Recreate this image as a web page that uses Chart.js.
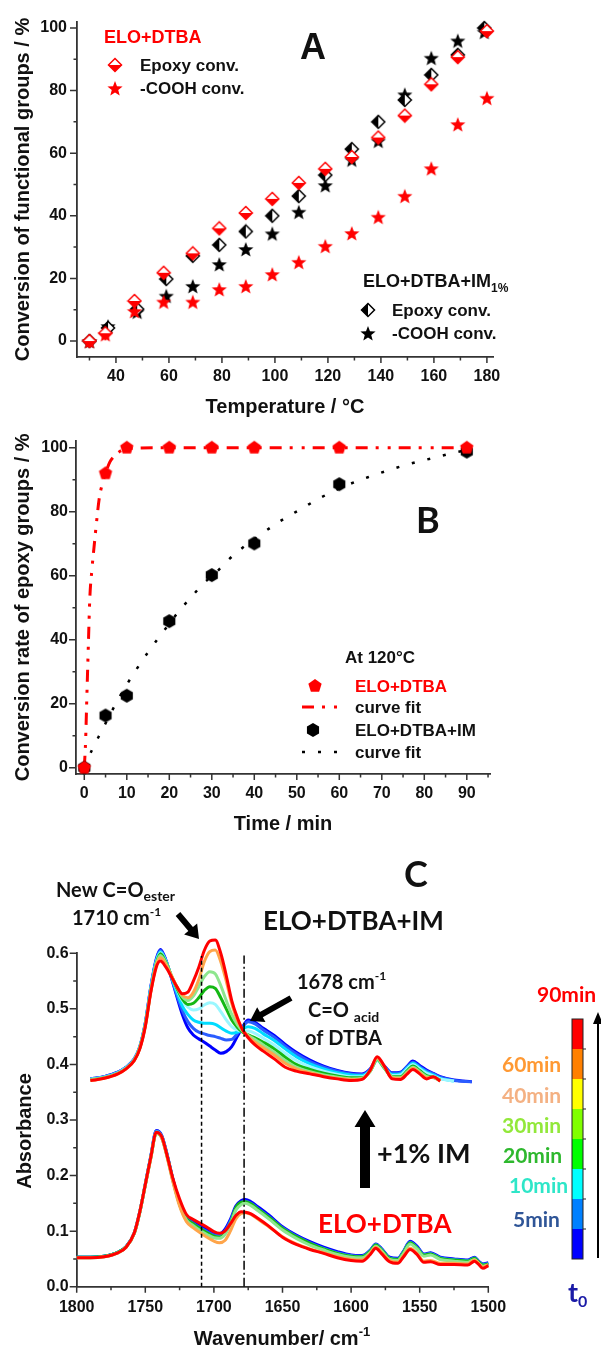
<!DOCTYPE html>
<html>
<head>
<meta charset="utf-8">
<script src="https://cdn.jsdelivr.net/npm/chart.js@4.4.0/dist/chart.umd.min.js"></script>
<style>
  html, body { margin: 0; padding: 0; background: #fff; overflow: hidden; }
  #wrap { position: relative; width: 601px; height: 1348px; }
  #wrap canvas { position: absolute; left: 0; }
</style>
</head>
<body>
<div id="wrap">
  <canvas id="chartA" width="601" height="420" style="top:0px"></canvas>
  <canvas id="chartB" width="601" height="420" style="top:420px"></canvas>
  <canvas id="chartC" width="601" height="508" style="top:840px"></canvas>
</div>
<script>
// ---------- Panel A: conversion vs temperature ----------
const tempDTBA  = [30, 36, 47, 58, 69, 79, 89, 99, 109, 119, 129, 139, 149, 159, 169, 180];
const epoxyDTBA = [0, 2.5, 12.8, 21.8, 28, 36, 40.9, 45.4, 50.5, 55, 58.8, 65, 72, 82, 90.7, 99];
const coohDTBA  = [0, 2.2, 9.6, 12.6, 12.6, 16.6, 17.6, 21.4, 25.3, 30.4, 34.5, 39.7, 46.4, 55.2, 69.3, 77.7];
const tempIM    = [30, 37, 48, 59, 69, 79, 89, 99, 109, 119, 129, 139, 149, 159, 169, 179];
const epoxyIM   = [0, 4.2, 10.2, 19.8, 27.2, 30.7, 35, 40, 46.3, 53, 61.3, 70, 77, 85, 91.4, 100];
const coohIM    = [0, 4.8, 9.4, 14.5, 17.6, 24.6, 29.4, 34.4, 41.3, 49.8, 58, 64, 78.8, 90.5, 96, 98.8];
const tempTicks = [30, 40, 50, 60, 70, 80, 90, 100, 110, 120, 130, 140, 150, 160, 170, 180];
const convTicks = [0, 10, 20, 30, 40, 50, 60, 70, 80, 90, 100];

// ---------- Panel B: conversion rate at 120 °C ----------
const timeMin  = [0, 5, 10, 20, 30, 40, 60, 90];
const rateDTBA = [0, 92, 100, 100, 100, 100, 100, 100];
const rateIM   = [0, 16.3, 22.5, 45.8, 60.2, 70.1, 88.6, 98.8];
const fitTimeDTBA = [0, 0.3, 0.6, 0.95, 1.3, 1.8, 2.3, 2.9, 3.5, 4.2, 5, 6, 7, 8.5, 10, 20, 30, 40, 60, 90];
const fitDTBA     = [0, 8, 22, 38, 53, 62, 69, 77, 84, 88.5, 92, 95.5, 97.3, 99, 99.7, 100, 100, 100, 100, 100];
const fitTimeIM = [0, 1.9, 3.9, 7.9, 10, 12.3, 14.8, 17.2, 20, 22.5, 25.1, 27.9, 31, 34, 37.3, 40.6, 44.1, 47.6, 51.2, 54.9, 58.8, 62.9, 67.2, 71.2, 75.1, 79, 83.3, 87.5, 90];
const fitIM     = [0, 5.8, 11, 21.2, 26, 30.8, 35.7, 40.1, 45, 49.3, 53.2, 57.4, 61, 65.1, 68.8, 72, 75.3, 78.3, 81, 83.9, 86.5, 88.9, 91, 92.8, 94.4, 95.8, 97.2, 98.6, 99.2];
const timeTicks = [0, 5, 10, 15, 20, 25, 30, 35, 40, 45, 50, 55, 60, 65, 70, 75, 80, 85, 90, 95];
const rateTicks = [0, 10, 20, 30, 40, 50, 60, 70, 80, 90, 100];

// ---------- Panel C: FTIR spectra ----------
const timeLabels = ['t0', '5min', '10min', '20min', '30min', '40min', '60min', '90min'];
const wnUpper = [1790, 1780, 1770, 1764, 1758, 1754, 1750, 1746, 1742, 1739, 1735, 1731, 1727, 1723, 1719, 1715, 1711, 1707, 1703, 1699,
  1695, 1691, 1687, 1683, 1679, 1675, 1670, 1664, 1656, 1648, 1640, 1630, 1620, 1610, 1600, 1592, 1586, 1581, 1576, 1570,
  1564, 1559, 1555, 1550, 1545, 1540, 1535, 1525, 1512];
const imT0 = [.374, .378, .386, .395, .410, .432, .475, .540, .590, .607, .588, .556, .522, .490, .466, .453, .446, .440, .433, .426,
  .420, .423, .432, .450, .468, .480, .476, .465, .452, .436, .422, .408, .397, .389, .384, .383, .392, .410, .398, .385,
  .386, .397, .406, .398, .390, .384, .378, .372, .369];
const im5 = [.374, .378, .386, .395, .410, .432, .474, .538, .588, .605, .587, .557, .525, .497, .477, .465, .458, .455, .452, .450,
  .447, .444, .445, .455, .468, .477, .473, .462, .449, .433, .419, .405, .395, .388, .383, .382, .391, .409, .397, .384,
  .385, .396, .404, .396, .388, .383, .377, .371, .369];
const im10 = [.373, .377, .385, .394, .409, .431, .473, .537, .586, .603, .586, .558, .530, .505, .490, .480, .476, .474, .474, .472,
  .466, .460, .456, .458, .464, .468, .465, .455, .443, .428, .414, .401, .392, .385, .381, .380, .390, .408, .395, .382,
  .383, .394, .402, .394, .386, .381, .375, .370, null];
const im20 = [.373, .377, .385, .394, .409, .431, .472, .535, .584, .601, .585, .560, .535, .515, .503, .498, .500, .507, .511, .508,
  .495, .480, .468, .462, .460, .460, .456, .447, .435, .420, .407, .396, .388, .382, .378, .378, .388, .407, .394, .380,
  .381, .392, .400, .392, .384, .379, .374, .370, null];
const im30 = [.372, .376, .384, .393, .408, .430, .471, .533, .582, .599, .584, .560, .537, .518, .508, .510, .520, .533, .540, .537,
  .520, .500, .480, .467, .458, .453, .448, .440, .428, .413, .400, .391, .384, .379, .376, .376, .388, .409, .394, .378,
  .378, .389, .397, .389, .380, .377, .372, null, null];
const im40 = [.372, .376, .384, .393, .408, .430, .470, .532, .580, .596, .582, .560, .540, .522, .515, .523, .540, .558, .567, .563,
  .542, .515, .490, .472, .460, .452, .445, .435, .422, .407, .395, .387, .381, .377, .374, .375, .388, .410, .395, .377,
  .376, .387, .395, .387, .378, .376, .371, null, null];
const im60 = [.371, .375, .383, .392, .407, .429, .469, .531, .578, .592, .580, .560, .540, .525, .520, .530, .553, .585, .603, .606,
  .585, .550, .510, .480, .462, .450, .440, .430, .417, .402, .392, .385, .379, .375, .373, .374, .389, .412, .397, .376,
  .375, .385, .393, .385, .376, .377, .370, null, null];
const im90 = [.371, .375, .383, .392, .407, .428, .468, .530, .575, .586, .575, .558, .540, .527, .530, .550, .575, .605, .622, .624,
  .600, .560, .515, .485, .462, .448, .435, .424, .410, .395, .388, .383, .378, .374, .371, .373, .390, .414, .398, .374,
  .373, .383, .391, .383, .374, .378, .370, null, null];

const wnLower = [1800, 1790, 1780, 1770, 1764, 1758, 1754, 1750, 1746, 1742, 1738, 1734, 1730, 1725, 1720, 1715, 1710, 1705, 1700, 1696,
  1692, 1688, 1684, 1680, 1677, 1673, 1668, 1660, 1650, 1640, 1630, 1620, 1610, 1600, 1592, 1586, 1582, 1578, 1572, 1566,
  1562, 1557, 1552, 1547, 1542, 1535, 1525, 1515, 1510, 1507, 1504, 1500];
const loT0 = [.053, .053, .055, .062, .072, .097, .135, .185, .235, .281, .272, .237, .195, .152, .126, .117, .110, .103, .096, .095,
  .103, .121, .145, .155, .157, .153, .144, .129, .108, .093, .081, .071, .063, .057, .056, .066, .077, .069, .053, .051,
  .063, .082, .073, .059, .061, .053, .050, .048, .053, .046, .041, .043];
const lo5 = [.053, .053, .055, .062, .072, .097, .135, .184, .234, .280, .271, .236, .194, .150, .124, .114, .106, .099, .093, .092,
  .100, .118, .142, .152, .154, .150, .141, .126, .106, .091, .079, .069, .061, .056, .055, .065, .076, .068, .052, .050,
  .062, .080, .071, .058, .060, .052, .049, .047, .052, .045, .040, .042];
const lo10 = [.053, .053, .055, .062, .072, .096, .134, .184, .233, .279, .270, .235, .193, .148, .121, .111, .103, .096, .090, .089,
  .097, .115, .140, .150, .152, .148, .139, .124, .104, .089, .077, .068, .060, .055, .054, .064, .075, .067, .051, .049,
  .061, .079, .070, .057, .059, .051, .048, .046, .051, .044, .039, .041];
const lo20 = [.052, .052, .054, .061, .071, .096, .134, .183, .232, .278, .269, .234, .192, .147, .120, .110, .102, .095, .089, .088,
  .095, .113, .138, .149, .151, .147, .138, .123, .103, .088, .076, .067, .059, .054, .053, .063, .074, .066, .050, .048,
  .060, .078, .069, .056, .058, .050, .047, .045, .050, .043, .038, .040];
const lo30 = [.053, .053, .055, .062, .072, .096, .134, .183, .232, .276, .268, .234, .193, .149, .122, .113, .105, .097, .091, .089,
  .096, .114, .142, .152, .153, .149, .140, .125, .105, .090, .078, .068, .060, .055, .054, .064, .075, .067, .051, .049,
  .061, .079, .070, .057, .059, .051, .048, .046, .051, .044, .039, .041];
const lo40 = [.052, .052, .054, .061, .071, .096, .134, .183, .231, .276, .268, .233, .192, .148, .120, .110, .101, .094, .088, .087,
  .094, .112, .138, .148, .150, .146, .137, .122, .102, .087, .075, .066, .058, .053, .052, .062, .073, .065, .049, .047,
  .059, .077, .068, .055, .057, .049, .046, .044, .049, .042, .037, .039];
const lo60 = [.052, .052, .054, .061, .071, .096, .134, .183, .231, .277, .268, .232, .190, .145, .117, .106, .097, .089, .082, .079,
  .083, .100, .122, .132, .133, .130, .122, .108, .090, .077, .068, .061, .054, .049, .048, .060, .071, .062, .047, .044,
  .055, .069, .060, .046, .047, .042, .042, .041, .048, .042, .035, .040];
const lo90 = [.052, .052, .054, .061, .071, .097, .135, .184, .233, .278, .270, .235, .196, .158, .130, .121, .114, .107, .099, .096,
  .100, .113, .128, .135, .134, .131, .123, .109, .089, .076, .067, .060, .052, .047, .046, .058, .069, .060, .045, .042,
  .053, .067, .058, .044, .045, .040, .040, .039, .046, .040, .033, .038];
const peakEster = 1709;
const peakAcid = 1678;
const wnTicks = [1800, 1775, 1750, 1725, 1700, 1675, 1650, 1625, 1600, 1575, 1550, 1525, 1500];
const absTicks = [0, 0.05, 0.1, 0.15, 0.2, 0.25, 0.3, 0.35, 0.4, 0.45, 0.5, 0.55, 0.6];

const upperIM = [imT0, im5, im10, im20, im30, im40, im60, im90];
const lowerDTBA = [loT0, lo5, lo10, lo20, lo30, lo40, lo60, lo90];

// ---------- styles ----------
const SANS = '"Liberation Sans", Arial, sans-serif';
const CALI = 'Lato, "Open Sans", sans-serif';
const INK = '#111';
const AXIS = '#333';
const RED = '#ff0000';
const specColors = ['#0000ff', '#2a5cff', '#00dcff', '#9af7ff', '#14b814', '#8ee68e', '#ffa54a', '#ff0000'];
const barColors = ['#0000ff', '#0080ff', '#00ffff', '#00ff00', '#80ff00', '#ffff00', '#ff8000', '#ff0000'];
const labelColors = ['#1a1aa6', '#2f5597', '#2ee6c8', '#2eb82e', '#92e83a', '#f4b183', '#ff9933', '#ff0000'];

Chart.defaults.font.family = SANS;

function pairs(xs, ys) {
  return xs.map((x, i) => ({ x: x, y: ys[i] })).filter(p => p.y !== null);
}
function isMultiple(v, step) {
  const r = v / step;
  return Math.abs(r - Math.round(r)) < 1e-6;
}

// marker images used as point styles
function marker(size, draw) {
  const c = document.createElement('canvas');
  c.width = size; c.height = size;
  draw(c.getContext('2d'), size / 2);
  return c;
}
function diamondPath(g, c, r) {
  g.beginPath();
  g.moveTo(c, c - r); g.lineTo(c + r, c); g.lineTo(c, c + r); g.lineTo(c - r, c);
  g.closePath();
}
function polyPath(g, c, r, n) {
  g.beginPath();
  for (let i = 0; i < n; i++) {
    const a = -Math.PI / 2 + i * 2 * Math.PI / n;
    g.lineTo(c + r * Math.cos(a), c + r * Math.sin(a));
  }
  g.closePath();
}
function starPath(g, c, R, r) {
  g.beginPath();
  for (let i = 0; i < 10; i++) {
    const a = -Math.PI / 2 + i * Math.PI / 5;
    const rr = i % 2 ? r : R;
    g.lineTo(c + rr * Math.cos(a), c + 1 + rr * Math.sin(a));
  }
  g.closePath();
}
const redDiamond = marker(16, (g, c) => {
  const r = 6.5;
  diamondPath(g, c, r); g.fillStyle = '#fff'; g.fill();
  g.beginPath(); g.moveTo(c - r, c); g.lineTo(c + r, c); g.lineTo(c, c + r); g.closePath();
  g.fillStyle = RED; g.fill();
  diamondPath(g, c, r); g.strokeStyle = RED; g.lineWidth = 1.5; g.stroke();
});
const blackDiamond = marker(16, (g, c) => {
  const r = 6.5;
  diamondPath(g, c, r); g.fillStyle = '#fff'; g.fill();
  g.beginPath(); g.moveTo(c, c - r); g.lineTo(c, c + r); g.lineTo(c - r, c); g.closePath();
  g.fillStyle = '#000'; g.fill();
  diamondPath(g, c, r); g.strokeStyle = '#000'; g.lineWidth = 1.5; g.stroke();
});
const redStar = marker(18, (g, c) => { starPath(g, c, 8, 3.4); g.fillStyle = RED; g.fill(); });
const blackStar = marker(18, (g, c) => { starPath(g, c, 8, 3.4); g.fillStyle = '#000'; g.fill(); });
const redPentagon = marker(16, (g, c) => { polyPath(g, c, 7, 5); g.fillStyle = RED; g.fill(); });
const blackHexagon = marker(16, (g, c) => { polyPath(g, c, 7, 6); g.fillStyle = '#000'; g.fill(); });

function axis(o) {
  return {
    type: 'linear', bounds: 'data', min: o.min, max: o.max, reverse: !!o.reverse,
    afterBuildTicks: s => { s.ticks = o.ticks.map(v => ({ value: v })); },
    afterFit: s => { if (o.width) s.width = o.width; if (o.height) s.height = o.height; },
    grid: { display: false, drawTicks: false },
    border: { display: true, color: AXIS, width: 1.8 },
    ticks: { autoSkip: false, maxRotation: 0, padding: o.pad, color: INK,
      font: { family: SANS, size: 16, weight: 'bold' }, callback: o.label },
    title: o.title ? { display: true, text: o.title, color: INK,
      font: { family: SANS, size: 20, weight: 'bold' }, padding: o.titlePad } : { display: false }
  };
}

function drawTicks(chart, xMajor, yMajor) {
  const { ctx, chartArea: a, scales: { x, y } } = chart;
  ctx.save();
  ctx.strokeStyle = AXIS;
  ctx.lineWidth = 1.5;
  ctx.beginPath();
  x.ticks.forEach(t => {
    const p = x.getPixelForValue(t.value);
    const len = isMultiple(t.value, xMajor) ? 6 : 3.5;
    ctx.moveTo(p, a.bottom); ctx.lineTo(p, a.bottom + len);
  });
  y.ticks.forEach(t => {
    const p = y.getPixelForValue(t.value);
    const len = isMultiple(t.value, yMajor) ? 7 : 3.5;
    ctx.moveTo(a.left, p); ctx.lineTo(a.left - len, p);
  });
  ctx.stroke();
  ctx.restore();
}

// text made of runs: [text, font, color, dy]
function write(ctx, parts, x, y) {
  let cx = x;
  parts.forEach(([t, font, color, dy]) => {
    ctx.font = font; ctx.fillStyle = color;
    ctx.fillText(t, cx, y + (dy || 0));
    cx += ctx.measureText(t).width;
  });
}
function runsWidth(ctx, parts) {
  return parts.reduce((w, [t, font]) => { ctx.font = font; return w + ctx.measureText(t).width; }, 0);
}
function stamp(ctx, img, x, y) {
  ctx.drawImage(img, x - img.width / 2, y - img.height / 2);
}
function arrow(ctx, x1, y1, x2, y2, shaft, headLen, headW) {
  const ang = Math.atan2(y2 - y1, x2 - x1);
  const len = Math.hypot(x2 - x1, y2 - y1);
  ctx.save();
  ctx.translate(x1, y1); ctx.rotate(ang);
  ctx.beginPath();
  ctx.moveTo(0, -shaft / 2); ctx.lineTo(len - headLen, -shaft / 2); ctx.lineTo(len - headLen, -headW / 2);
  ctx.lineTo(len, 0);
  ctx.lineTo(len - headLen, headW / 2); ctx.lineTo(len - headLen, shaft / 2); ctx.lineTo(0, shaft / 2);
  ctx.closePath();
  ctx.fillStyle = '#000'; ctx.fill();
  ctx.restore();
}

const bold = (size, fam) => 'bold ' + size + 'px ' + (fam || SANS);

// ---------- Panel A ----------
const panelA = {
  id: 'panelA',
  afterDraw(chart) {
    const ctx = chart.ctx;
    drawTicks(chart, 20, 20);
    ctx.save();
    ctx.textBaseline = 'alphabetic';
    write(ctx, [['ELO+DTBA', bold(18), RED]], 104, 43);
    stamp(ctx, redDiamond, 115, 65);
    write(ctx, [['Epoxy conv.', bold(17), INK]], 140, 71);
    stamp(ctx, redStar, 115, 88);
    write(ctx, [['-COOH conv.', bold(17), INK]], 140, 94);
    write(ctx, [['A', bold(36), INK]], 300, 59);
    write(ctx, [['ELO+DTBA+IM', bold(18), INK], ['1%', bold(12), INK, 5]], 363, 287);
    stamp(ctx, blackDiamond, 368, 310);
    write(ctx, [['Epoxy conv.', bold(17), INK]], 392, 316);
    stamp(ctx, blackStar, 368, 333);
    write(ctx, [['-COOH conv.', bold(17), INK]], 392, 339);
    ctx.restore();
  }
};

new Chart(document.getElementById('chartA'), {
  type: 'scatter',
  data: {
    datasets: [
      { label: 'ELO+DTBA Epoxy conv.', data: pairs(tempDTBA, epoxyDTBA), pointStyle: redDiamond, pointRadius: 7, order: 0, clip: false },
      { label: 'ELO+DTBA -COOH conv.', data: pairs(tempDTBA, coohDTBA), pointStyle: redStar, pointRadius: 7, order: 1, clip: false },
      { label: 'ELO+DTBA+IM1% Epoxy conv.', data: pairs(tempIM, epoxyIM), pointStyle: blackDiamond, pointRadius: 7, order: 2, clip: false },
      { label: 'ELO+DTBA+IM1% -COOH conv.', data: pairs(tempIM, coohIM), pointStyle: blackStar, pointRadius: 7, order: 3, clip: false }
    ]
  },
  options: {
    responsive: false, animation: false, events: [],
    layout: { padding: { left: 0, top: 22, right: 108, bottom: 0 } },
    plugins: { legend: { display: false }, tooltip: { enabled: false } },
    scales: {
      x: axis({ min: 25.3, max: 182.3, ticks: tempTicks, height: 63, pad: 10,
        label: v => isMultiple(v, 20) ? String(v) : '',
        title: 'Temperature / °C', titlePad: { top: 0, bottom: 1 } }),
      y: axis({ min: -5.1, max: 101.9, ticks: convTicks, width: 77, pad: 10,
        label: v => isMultiple(v, 20) ? String(v) : '',
        title: 'Conversion of functional groups / %', titlePad: { top: 11, bottom: 0 } })
    }
  },
  plugins: [panelA]
});

// ---------- Panel B ----------
const panelB = {
  id: 'panelB',
  afterDraw(chart) {
    const ctx = chart.ctx;
    drawTicks(chart, 10, 20);
    ctx.save();
    ctx.translate(0, -420);
    write(ctx, [['At 120°C', bold(17), INK]], 345, 663);
    stamp(ctx, redPentagon, 315, 686);
    write(ctx, [['ELO+DTBA', bold(17), RED]], 355, 692);
    ctx.strokeStyle = RED; ctx.lineWidth = 3; ctx.setLineDash([12, 8, 3, 9, 3, 8]);
    ctx.beginPath(); ctx.moveTo(302, 707); ctx.lineTo(340, 707); ctx.stroke();
    write(ctx, [['curve fit', bold(17), INK]], 355, 713);
    stamp(ctx, blackHexagon, 313, 730);
    write(ctx, [['ELO+DTBA+IM', bold(17), INK]], 355, 736);
    ctx.strokeStyle = '#000'; ctx.lineWidth = 2.5; ctx.setLineDash([3, 13]);
    ctx.beginPath(); ctx.moveTo(302, 752); ctx.lineTo(340, 752); ctx.stroke();
    ctx.setLineDash([]);
    write(ctx, [['curve fit', bold(17), INK]], 355, 758);
    write(ctx, [['B', bold(36, CALI), INK]], 416, 533);
    ctx.restore();
  }
};

new Chart(document.getElementById('chartB'), {
  type: 'scatter',
  data: {
    datasets: [
      { label: 'ELO+DTBA', data: pairs(timeMin, rateDTBA), pointStyle: redPentagon, pointRadius: 7, order: 0, clip: false },
      { label: 'ELO+DTBA+IM', data: pairs(timeMin, rateIM), pointStyle: blackHexagon, pointRadius: 7, order: 1, clip: false },
      { label: 'curve fit', data: pairs(fitTimeDTBA, fitDTBA), showLine: true, pointRadius: 0,
        borderColor: RED, borderWidth: 3, borderDash: [12, 8, 3, 9, 3, 8], cubicInterpolationMode: 'monotone', order: 2 },
      { label: 'curve fit', data: pairs(fitTimeIM, fitIM), showLine: true, pointRadius: 0,
        borderColor: '#000', borderWidth: 2.5, borderDash: [3, 13], cubicInterpolationMode: 'monotone', order: 3 }
    ]
  },
  options: {
    responsive: false, animation: false, events: [],
    layout: { padding: { left: 0, top: 20.7, right: 111, bottom: 0 } },
    plugins: { legend: { display: false }, tooltip: { enabled: false } },
    scales: {
      x: axis({ min: -1.95, max: 95.46, ticks: timeTicks, height: 66, pad: 10,
        label: v => isMultiple(v, 10) ? String(v) : '',
        title: 'Time / min', titlePad: { top: 0, bottom: 4 } }),
      y: axis({ min: -1.97, max: 102.2, ticks: rateTicks, width: 76, pad: 8,
        label: v => isMultiple(v, 20) ? String(v) : '',
        title: 'Conversion rate of epoxy groups / %', titlePad: { top: 11, bottom: 0 } })
    }
  },
  plugins: [panelB]
});

// ---------- Panel C ----------
const panelC = {
  id: 'panelC',
  afterDraw(chart) {
    const ctx = chart.ctx;
    drawTicks(chart, 50, 0.1);
    ctx.save();
    ctx.translate(0, -840);
    // axis titles
    ctx.save();
    ctx.translate(25, 1131); ctx.rotate(-Math.PI / 2);
    ctx.textAlign = 'center'; ctx.textBaseline = 'middle';
    ctx.font = bold(20); ctx.fillStyle = INK;
    ctx.fillText('Absorbance', 0, 0);
    ctx.restore();
    const xt = [['Wavenumber/ cm', bold(20), INK], ['-1', bold(13), INK, -9]];
    write(ctx, xt, 282 - runsWidth(ctx, xt) / 2, 1345);

    // annotations
    write(ctx, [['C', bold(36, CALI), INK]], 404, 887);
    write(ctx, [['ELO+DTBA+IM', bold(26, CALI), INK]], 263, 930);
    write(ctx, [['New C=O', bold(20, CALI), INK], ['ester', bold(14, CALI), INK, 4]], 56, 897);
    write(ctx, [['1710 cm', bold(20, CALI), INK], ['-1', bold(12, CALI), INK, -9]], 72, 925);
    write(ctx, [['1678 cm', bold(20, CALI), INK], ['-1', bold(12, CALI), INK, -9]], 297, 989);
    write(ctx, [['C=O ', bold(20, CALI), INK], ['acid', bold(14, CALI), INK, 5]], 308, 1017);
    write(ctx, [['of DTBA', bold(20, CALI), INK]], 305, 1045);
    write(ctx, [['+1% IM', bold(27, CALI), INK]], 377, 1163);
    write(ctx, [['ELO+DTBA', bold(26, CALI), RED]], 318, 1233);
    arrow(ctx, 178, 914, 199, 939, 6, 13, 17);
    arrow(ctx, 291, 998, 250, 1021, 6, 13, 17);
    arrow(ctx, 365, 1188, 365, 1110, 10, 17, 21);
    arrow(ctx, 598, 1258, 598, 1012, 2, 12, 10);

    // colour bar
    const top = 1019, bot = 1259, h = (bot - top) / barColors.length;
    barColors.forEach((c, i) => { ctx.fillStyle = c; ctx.fillRect(572, bot - (i + 1) * h, 11, h); });
    ctx.strokeStyle = '#222'; ctx.lineWidth = 1;
    ctx.strokeRect(572, top, 11, bot - top);
    ctx.beginPath();
    for (let i = 1; i < barColors.length; i++) { ctx.moveTo(583, bot - i * h); ctx.lineTo(586, bot - i * h); }
    ctx.stroke();
    const labelPos = [null, [513, 1227], [509, 1193], [503, 1163], [502, 1133], [502, 1103], [502, 1072], [537, 1002]];
    timeLabels.forEach((t, i) => {
      if (i === 0) return;
      write(ctx, [[t, bold(21, CALI), labelColors[i]]], labelPos[i][0], labelPos[i][1]);
    });
    write(ctx, [['t', bold(27, CALI), labelColors[0]], ['0', bold(16, CALI), labelColors[0], 5]], 568, 1302);
    ctx.restore();
  }
};

const specSets = [];
upperIM.forEach((arr, i) => specSets.push({
  label: 'ELO+DTBA+IM ' + timeLabels[i], data: pairs(wnUpper, arr), showLine: true, pointRadius: 0,
  borderColor: specColors[i], borderWidth: 3, cubicInterpolationMode: 'monotone', clip: false, order: 10 - i
}));
lowerDTBA.forEach((arr, i) => specSets.push({
  label: 'ELO+DTBA ' + timeLabels[i], data: pairs(wnLower, arr), showLine: true, pointRadius: 0,
  borderColor: specColors[i], borderWidth: 3, cubicInterpolationMode: 'monotone', clip: false, order: 10 - i
}));
specSets.push({ label: 'C=O ester', data: [{ x: peakEster, y: 0 }, { x: peakEster, y: 0.595 }], showLine: true, pointRadius: 0,
  borderColor: '#000', borderWidth: 1.5, borderDash: [4, 3], order: 0 });
specSets.push({ label: 'C=O acid', data: [{ x: peakAcid, y: 0 }, { x: peakAcid, y: 0.596 }], showLine: true, pointRadius: 0,
  borderColor: '#000', borderWidth: 1.5, borderDash: [9, 3, 2, 3], order: 0 });

new Chart(document.getElementById('chartC'), {
  type: 'scatter',
  data: { datasets: specSets },
  options: {
    responsive: false, animation: false, events: [],
    layout: { padding: { left: 0, top: 113.3, right: 112.7, bottom: 0 } },
    plugins: { legend: { display: false }, tooltip: { enabled: false } },
    scales: {
      x: axis({ min: 1500, max: 1800, reverse: true, ticks: wnTicks, height: 61.3, pad: 11,
        label: v => isMultiple(v, 50) ? String(v) : '' }),
      y: axis({ min: 0, max: 0.6, ticks: absTicks, width: 76.7, pad: 8,
        label: v => isMultiple(v, 0.1) ? v.toFixed(1) : '' })
    }
  },
  plugins: [panelC]
});
</script>
</body>
</html>
